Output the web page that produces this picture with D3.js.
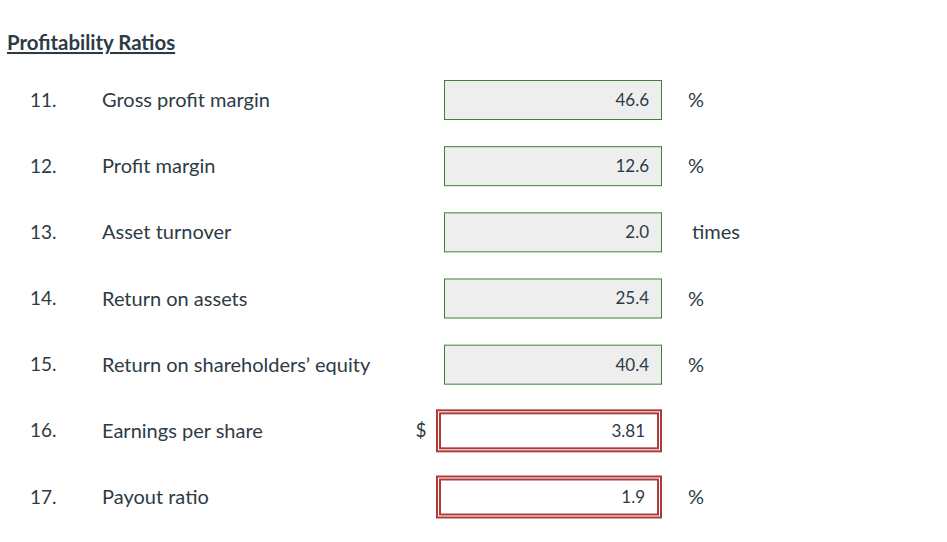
<!DOCTYPE html>
<html><head><meta charset="utf-8">
<script src="https://cdn.jsdelivr.net/npm/d3@7"></script>
<style>
html,body{margin:0;padding:0;background:#fff;}
svg{display:block;}
text{font-family:Lato,"Open Sans",sans-serif;fill:#2d3b45;}
</style></head>
<body>
<svg id="chart" width="947" height="542"></svg>
<script>
const title = "Profitability Ratios";
const rowNumbers = ["11.","12.","13.","14.","15.","16.","17."];
const rowLabels = ["Gross profit margin","Profit margin","Asset turnover","Return on assets","Return on shareholders\u2019 equity","Earnings per share","Payout ratio"];
const rowValues = ["46.6","12.6","2.0","25.4","40.4","3.81","1.9"];
const rowUnits = ["%","%","times","%","%","","%"];
const rowPrefixes = ["","","","","","$",""];
const rowStatus = ["correct","correct","correct","correct","correct","incorrect","incorrect"];

const svg = d3.select("#chart");

const y = d3.scalePoint().domain(rowNumbers).range([100, 497]);
const x = d3.scaleOrdinal()
  .domain(["num","label","prefix","boxL","boxR","value","unit"])
  .range([30, 102, 421, 444.5, 661.5, 649, 688]);

// title
svg.append("text").attr("x", 7).attr("y", 50)
  .attr("font-size", 20.4).attr("font-weight", 700)
  .attr("text-decoration", "underline")
  .text(title);

const rows = rowNumbers.map((n,i)=>({n, label:rowLabels[i], value:rowValues[i], unit:rowUnits[i], prefix:rowPrefixes[i], status:rowStatus[i]}));

const g = svg.selectAll("g.row").data(rows).join("g").attr("class","row")
  .attr("transform", d=>`translate(0,${y(d.n)})`);

g.append("text").attr("x", x("num")).attr("dy","0.35em").attr("font-size",19).text(d=>d.n);
g.append("text").attr("x", x("label")).attr("dy","0.35em").attr("font-size",20).text(d=>d.label);

// correct boxes
g.filter(d=>d.status==="correct").append("rect")
  .attr("x", x("boxL")).attr("y", -19.5)
  .attr("width", x("boxR")-x("boxL")).attr("height", 39)
  .attr("fill", "#eeeeee").attr("stroke", "#3f7f3a").attr("stroke-width", 1);

// incorrect boxes: double red border
const bad = g.filter(d=>d.status==="incorrect");
bad.append("rect")
  .attr("x", x("boxL")-7.5).attr("y", -20.5)
  .attr("width", x("boxR")-x("boxL")+7).attr("height", 41)
  .attr("fill", "#fff").attr("stroke", "#b03a3a").attr("stroke-width", 2);
bad.append("rect")
  .attr("x", x("boxL")-4.5).attr("y", -17.5)
  .attr("width", x("boxR")-x("boxL")+1).attr("height", 35)
  .attr("fill", "none").attr("stroke", "#b03a3a").attr("stroke-width", 2);

g.append("text").attr("x", d=>d.status==="incorrect" ? x("value")-4 : x("value"))
  .attr("dy","0.35em").attr("font-size",17)
  .attr("text-anchor","end").text(d=>d.value);
g.append("text").attr("x", d=>d.unit==="times"? x("unit")+4 : x("unit")).attr("dy","0.35em").attr("font-size",20).text(d=>d.unit);
g.append("text").attr("x", x("prefix")).attr("dy","0.35em").attr("font-size",19).attr("text-anchor","middle").text(d=>d.prefix);
</script>
</body></html>
